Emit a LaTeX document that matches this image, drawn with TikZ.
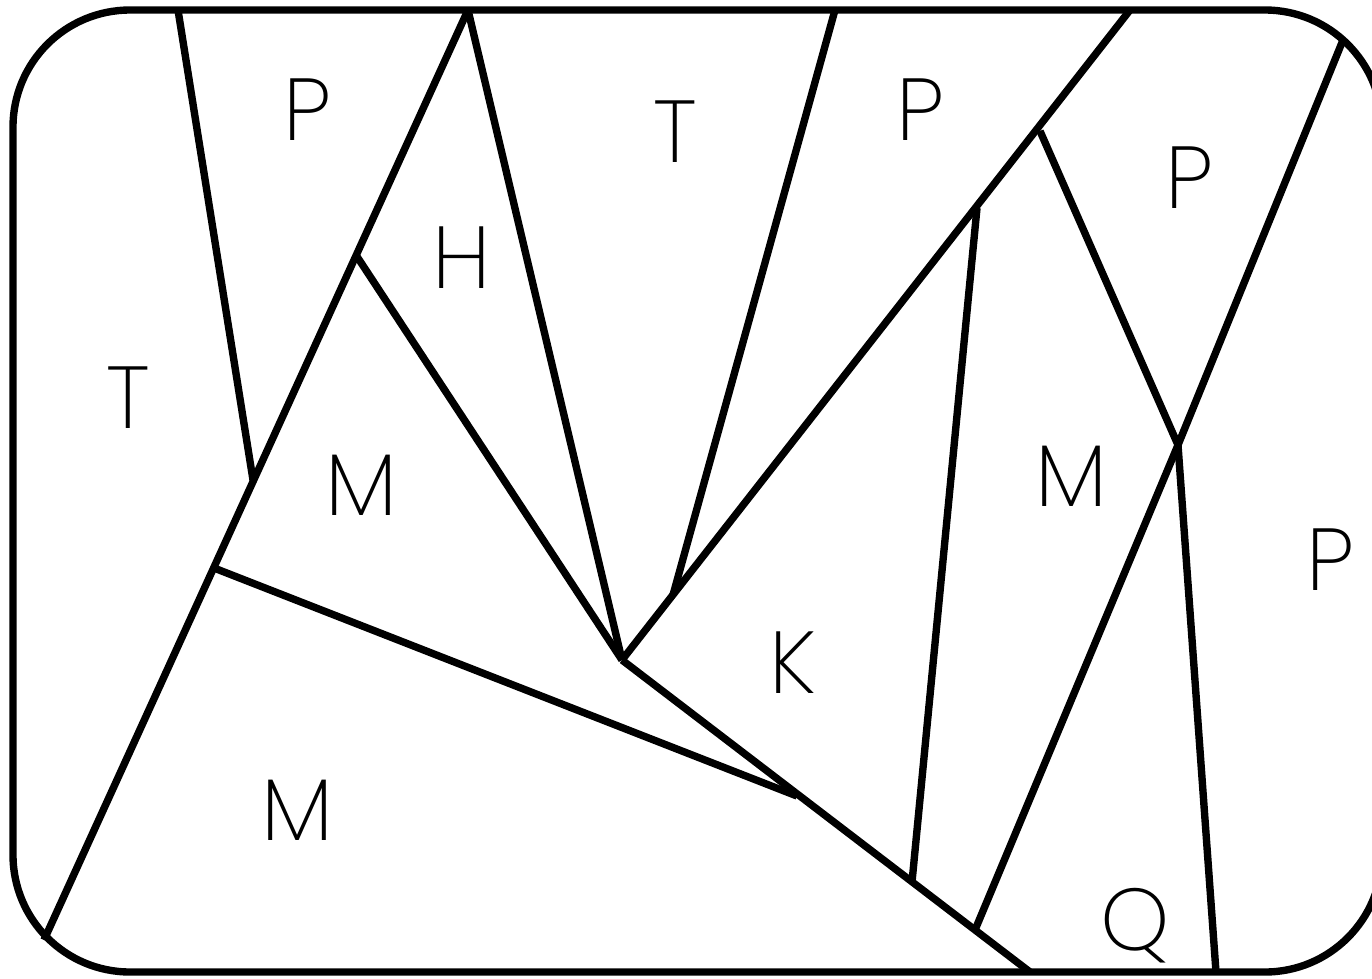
\documentclass[tikz,border=0pt]{standalone}
\usepackage{fontspec}
\setmainfont{Poppins}[UprightFont=* ExtraLight]
\begin{document}
\begin{tikzpicture}[x=0.01cm,y=-0.01cm,
  edge/.style={line width=2.1pt,black},
  lbl/.style={anchor=base,inner sep=0pt,font=\fontsize{25}{25}\selectfont}]
\useasboundingbox (0,0) rectangle (1372,978);
\clip (0,0) rectangle (1372,978);
% points
\coordinate (A) at (178,10);
\coordinate (B) at (253,480);
\coordinate (C) at (468,10);
\coordinate (D) at (44,940);
\coordinate (E) at (356,255);
\coordinate (F) at (622,660);
\coordinate (G) at (835,10);
\coordinate (H) at (673,595);
\coordinate (I) at (1130,10);
\coordinate (J) at (1040,131);
\coordinate (K) at (1178,445);
\coordinate (L) at (1343,40);
\coordinate (M) at (975,930);
\coordinate (N) at (1030,972);
\coordinate (O) at (1216,972);
\coordinate (P) at (977,208);
\coordinate (Q) at (912,882);
\coordinate (R) at (214,568);
\coordinate (S) at (797,796);
% frame
\draw[edge,rounded corners=1.17cm] (13,10) rectangle (1382,972);
% dividing lines
\draw[edge] (A) -- (B);
\draw[edge] (C) -- (D);
\draw[edge] (E) -- (F);
\draw[edge] (C) -- (F);
\draw[edge] (G) -- (H);
\draw[edge] (I) -- (F);
\draw[edge] (J) -- (K);
\draw[edge] (L) -- (K) -- (M);
\draw[edge] (K) -- (O);
\draw[edge] (P) -- (Q);
\draw[edge] (R) -- (S);
\draw[edge] (F) -- (N);
% labels
\node[lbl] (l1) at (128,428) {T};
\node[lbl] (l2) at (307,140) {P};
\node[lbl] (l3) at (462,288) {H};
\node[lbl] (l4) at (675,162) {T};
\node[lbl] (l5) at (920,140) {P};
\node[lbl] (l6) at (1189,208) {P};
\node[lbl] (l7) at (362,515) {M};
\node[lbl] (l8) at (1072,506) {M};
\node[lbl] (l9) at (1330,590) {P};
\node[lbl] (l10) at (793,693) {K};
\node[lbl] (l11) at (298,840) {M};
\node[lbl] (l12) at (1135,950) {Q};
\end{tikzpicture}
\end{document}
